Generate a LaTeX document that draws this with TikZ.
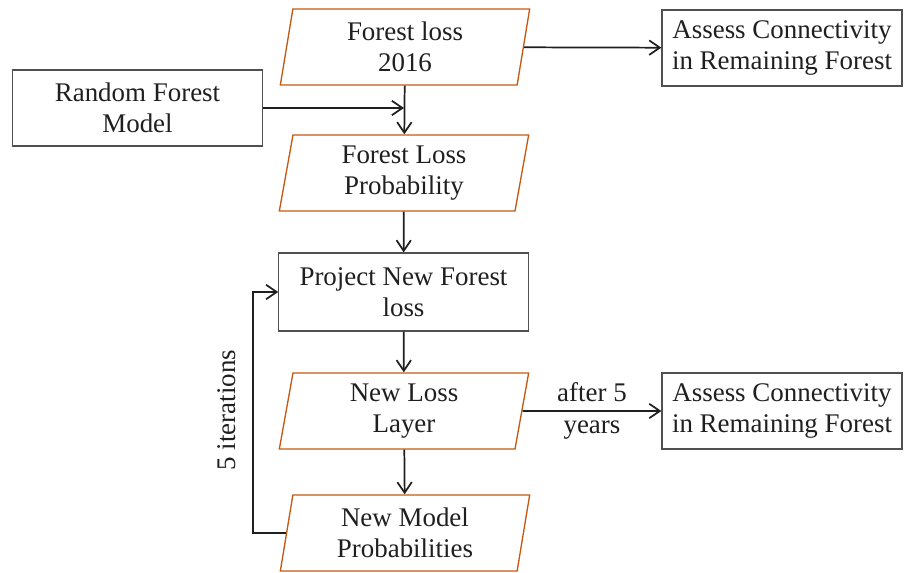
\documentclass[tikz,border=0pt]{standalone}
\usepackage{fontspec}
\setmainfont{Liberation Serif}
\usetikzlibrary{arrows.meta,positioning,shapes.geometric}
\definecolor{RustCS}{RGB}{196,89,17}
\definecolor{BoxGrey}{RGB}{80,80,80}
\colorlet{InkBlack}{black!88}

\begin{document}
\begin{tikzpicture}[x=0.75pt,y=-0.75pt,
    txt/.style={font=\fontsize{20.2}{23.5}\selectfont,text=InkBlack,align=center},
    procbox/.style={txt,draw=BoxGrey,line width=0.9pt,rectangle,inner sep=1pt},
    databox/.style={txt,draw=RustCS,line width=1pt,trapezium,trapezium left angle=76,
      trapezium right angle=104,trapezium stretches body,inner sep=0pt,
      minimum width=187pt,minimum height=57pt},
    flow/.style={-{Straight Barb[length=2.8mm,width=3.8mm]},line width=1.3pt,InkBlack}]
  \useasboundingbox (0,0) rectangle (904,573);
  \node[databox] (loss16) at (405,47) {Forest loss\\2016};
  \node[procbox,minimum width=180pt,minimum height=57pt] (conn1) at (782,48) {Assess Connectivity\\in Remaining Forest};
  \node[procbox,minimum width=187pt,minimum height=57pt] (rfm) at (137.5,108) {Random Forest\\Model};
  \node[databox] (lossprob) at (404,173) {Forest Loss\\Probability};
  \node[procbox,minimum width=187pt,minimum height=58.5pt] (project) at (403.5,292) {Project New Forest\\loss};
  \node[databox] (newloss) at (404,411) {New Loss\\Layer};
  \node[procbox,minimum width=180pt,minimum height=57pt] (conn2) at (782,411) {Assess Connectivity\\in Remaining Forest};
  \node[databox] (newprob) at (405,533) {New Model\\Probabilities};
  \coordinate (loopx) at (253,0);
  \draw[flow] (loss16) -- (conn1);
  \draw[flow] (loss16) -- (lossprob);
  \draw[flow] (rfm.east) -- (rfm.east -| lossprob.north);
  \draw[flow] (lossprob) -- (project);
  \draw[flow] (project) -- (newloss);
  \draw[flow] (newloss) -- (newprob);
  \draw[flow] (newloss) -- node[txt,midway] (after) {after 5\\years} (conn2);
  \draw[flow] (newprob.west) -- (newprob.west -| loopx) |- (project.west);
  \node[txt,rotate=90] (iter) at (227,410) {5 iterations};
\end{tikzpicture}
\end{document}
